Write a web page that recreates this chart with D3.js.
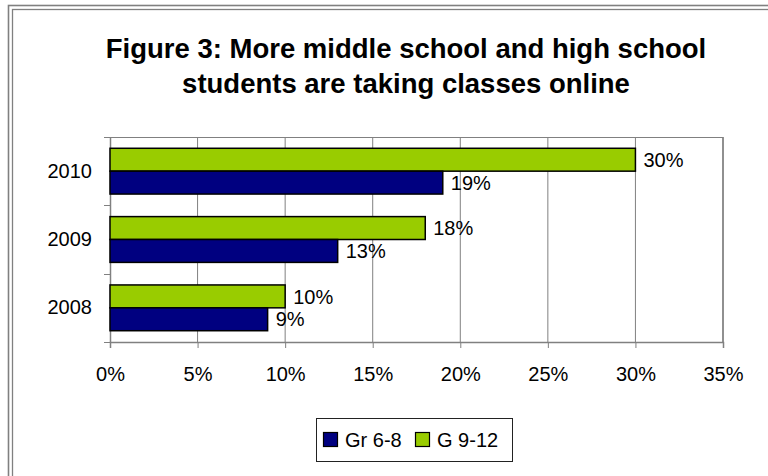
<!DOCTYPE html>
<html>
<head>
<meta charset="utf-8">
<script src="https://cdn.jsdelivr.net/npm/d3@7"></script>
<style>
  html, body { margin: 0; padding: 0; background: #fff; }
  svg { display: block; font-family: "Liberation Sans", Arial, sans-serif; }
</style>
</head>
<body>
<svg id="chart" width="768" height="476"></svg>
<script>
const years = ["2010", "2009", "2008"];
const seriesNames = ["G 9-12", "Gr 6-8"];
const g912 = [30, 18, 10];
const gr68 = [19, 13, 9];
const xTicks = [0, 5, 10, 15, 20, 25, 30, 35];
const titleLines = ["Figure 3: More middle school and high school", "students are taking classes online"];
const legendNames = ["Gr 6-8", "G 9-12"];
const colors = { "Gr 6-8": "#000080", "G 9-12": "#99CC00" };

(function () {
const svg = d3.select("#chart");

// frame (double gray line, cut off at right/bottom)
svg.append("rect").attr("x", 8.5).attr("y", 5.5).attr("width", 900).attr("height", 900)
  .attr("fill", "none").attr("stroke", "#808080").attr("stroke-width", 1.6);
svg.append("rect").attr("x", 12.5).attr("y", 9.5).attr("width", 900).attr("height", 900)
  .attr("fill", "none").attr("stroke", "#808080").attr("stroke-width", 1.3);

// title
svg.append("g").selectAll("text").data(titleLines).join("text")
  .attr("x", 406).attr("y", (d, i) => 58 + i * 35)
  .attr("text-anchor", "middle")
  .attr("font-size", 27.5).attr("font-weight", "bold").attr("fill", "#000")
  .text(d => d);

const pL = 110, pR = 723, pT = 137, pB = 342;
const x = d3.scaleLinear().domain([0, 35]).range([pL, pR]);
const y = d3.scaleBand().domain(years).range([pT, pB]).padding(0);
const groupH = y.bandwidth() * 0.67;
const inner = d3.scaleBand().domain(seriesNames)
  .range([(y.bandwidth() - groupH) / 2, (y.bandwidth() + groupH) / 2]).padding(0);

// gridlines
svg.append("g").selectAll("line").data(xTicks.slice(1)).join("line")
  .attr("x1", d => x(d)).attr("x2", d => x(d))
  .attr("y1", pT).attr("y2", pB)
  .attr("stroke", "#808080").attr("stroke-width", 1);
// plot border top
svg.append("line").attr("x1", pL).attr("x2", pR).attr("y1", pT + 0.5).attr("y2", pT + 0.5)
  .attr("stroke", "#808080").attr("stroke-width", 1);

// x axis
const xAxis = svg.append("g").attr("transform", `translate(0,${pB})`)
  .call(d3.axisBottom(x).tickValues(xTicks).tickFormat(d => d + "%").tickSize(6).tickPadding(19));
xAxis.select(".domain").attr("stroke", "#808080").attr("stroke-width", 1.5);
xAxis.selectAll(".tick line").attr("stroke", "#808080");
xAxis.selectAll("text").attr("font-size", 20).attr("fill", "#000")
  .attr("font-family", "Liberation Sans, Arial, sans-serif");

// y axis
const yAxis = svg.append("g").attr("transform", `translate(${pL},0)`)
  .call(d3.axisLeft(y).tickSize(0).tickPadding(18));
yAxis.select(".domain").attr("stroke", "#808080").attr("stroke-width", 1.5);
yAxis.selectAll("text").attr("font-size", 20).attr("fill", "#000")
  .attr("font-family", "Liberation Sans, Arial, sans-serif");
// y boundary ticks
svg.append("g").selectAll("line").data(years.concat(["end"])).join("line")
  .attr("x1", pL - 6).attr("x2", pL)
  .attr("y1", (d, i) => Math.round(pT + i * y.bandwidth()) + 0.5)
  .attr("y2", (d, i) => Math.round(pT + i * y.bandwidth()) + 0.5)
  .attr("stroke", "#808080").attr("stroke-width", 1);

// bars
const rows = [];
years.forEach((yr, i) => {
  rows.push({ year: yr, series: "G 9-12", value: g912[i] });
  rows.push({ year: yr, series: "Gr 6-8", value: gr68[i] });
});
svg.append("g").selectAll("rect").data(rows).join("rect")
  .attr("x", x(0))
  .attr("y", d => y(d.year) + inner(d.series))
  .attr("width", d => x(d.value) - x(0))
  .attr("height", inner.bandwidth())
  .attr("fill", d => colors[d.series])
  .attr("stroke", "#000").attr("stroke-width", 1.5);

// right plot border
svg.append("line").attr("x1", pR).attr("x2", pR).attr("y1", pT).attr("y2", pB)
  .attr("stroke", "#808080").attr("stroke-width", 1.5);

// labels
svg.append("g").selectAll("text").data(rows).join("text")
  .attr("x", d => x(d.value) + 8)
  .attr("y", d => y(d.year) + inner(d.series) + inner.bandwidth() / 2)
  .attr("dy", "0.36em")
  .attr("font-size", 20).attr("fill", "#000")
  .text(d => d.value + "%");

// legend
const lg = svg.append("g");
lg.append("rect").attr("x", 316.5).attr("y", 418.5).attr("width", 196).attr("height", 43)
  .attr("fill", "#fff").attr("stroke", "#222").attr("stroke-width", 1);
const legendX = [323, 415];
const items = lg.selectAll("g").data(legendNames).join("g")
  .attr("transform", (d, i) => `translate(${legendX[i]},0)`);
items.append("rect").attr("x", 0.5).attr("y", 432.5).attr("width", 14).attr("height", 14)
  .attr("fill", d => colors[d]).attr("stroke", "#000").attr("stroke-width", 1.2);
items.append("text").attr("x", 22).attr("y", 440).attr("dy", "0.36em")
  .attr("font-size", 20).attr("fill", "#000").text(d => d);
})();
</script>
</body>
</html>
